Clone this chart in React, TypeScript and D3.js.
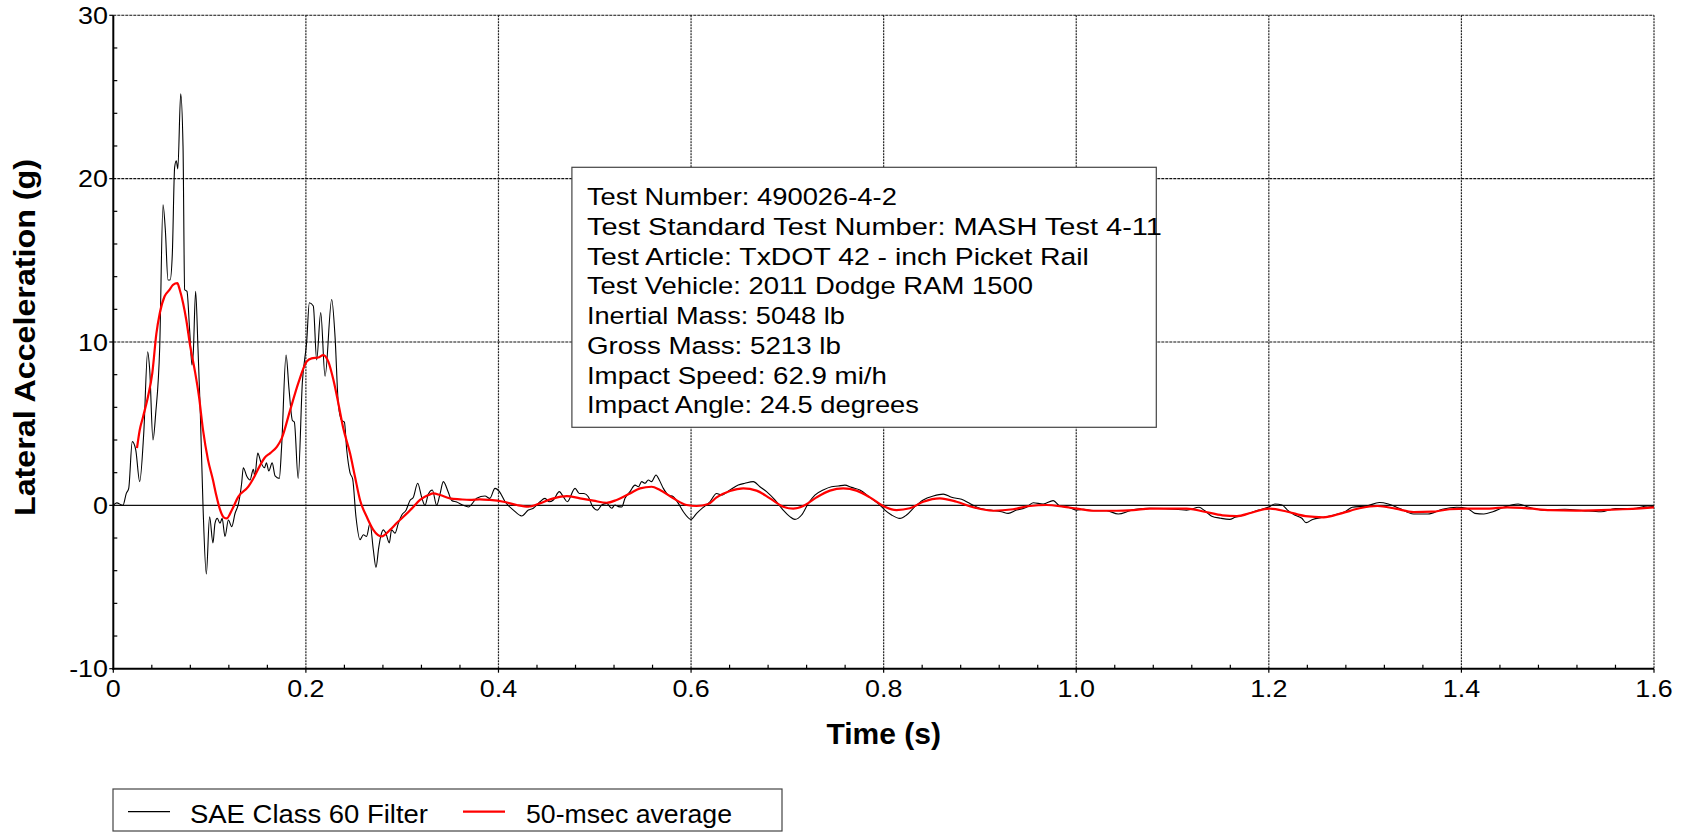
import React from "react";
import * as d3 from "d3";

// ---- data (time s, lateral acceleration g) ----
const sae60Points: [number, number][] = [
  [0, 0], [0.0035, 0.15], [0.01, 0], [0.0135, 0.73], [0.016, 1.04], [0.0197, 3.9], [0.0233, 3.4],
  [0.0274, 1.45], [0.0316, 4.4], [0.0357, 9.4], [0.0378, 8.3], [0.0412, 4.0], [0.044, 5.6],
  [0.0482, 9.7], [0.0516, 18.4], [0.054, 16.9], [0.0568, 13.8], [0.059, 13.8], [0.0613, 15.4],
  [0.0637, 20.7], [0.0654, 21.1], [0.067, 20.6], [0.07, 25.2], [0.0724, 22.0], [0.0741, 13.2],
  [0.0765, 13.1], [0.0793, 10.7], [0.0817, 8.6], [0.083, 9.3], [0.0855, 13.1], [0.0879, 9.7],
  [0.0904, 5.6], [0.0932, -0.1], [0.0966, -4.2], [0.1, -0.7], [0.1035, -2.3], [0.1056, -1.1],
  [0.108, -0.8], [0.1108, -1.1], [0.113, -0.8], [0.116, -1.9], [0.1195, -0.9], [0.123, -1.3],
  [0.1264, -0.5], [0.13, 0.1], [0.1333, 1.35], [0.135, 2.3], [0.1385, 1.8], [0.142, 1.55],
  [0.1454, 2.2], [0.147, 1.8], [0.15, 3.2], [0.1535, 2.6], [0.157, 2.3], [0.159, 2.6],
  [0.1615, 2.1], [0.165, 2.6], [0.168, 1.8], [0.1724, 1.65], [0.1748, 3.6], [0.1794, 9.2],
  [0.1825, 7.1], [0.186, 5.2], [0.188, 5.1], [0.192, 1.65], [0.1963, 7.5], [0.2008, 10.0],
  [0.2036, 12.4], [0.2077, 12.2], [0.2112, 8.9], [0.2154, 11.8], [0.2199, 7.9], [0.2268, 12.6],
  [0.2303, 10.3], [0.2337, 6.2], [0.2372, 5.2], [0.24, 5.1], [0.2424, 3.4], [0.2458, 2.0],
  [0.2486, 1.6], [0.252, -0.7], [0.2562, -2.1], [0.2597, -1.8], [0.263, -1.9], [0.2666, -1.1],
  [0.27, -2.7], [0.2728, -3.8], [0.2756, -2.6], [0.2777, -1.9], [0.2804, -1.5], [0.283, -1.7],
  [0.2866, -2.3], [0.289, -1.5], [0.2925, -1.7], [0.296, -1.1], [0.2995, -0.6], [0.304, -0.3],
  [0.3081, 0.3], [0.3116, 0.5], [0.3161, 1.35], [0.3202, 0.5], [0.3237, 0], [0.3272, 0.7],
  [0.3313, 0.94], [0.3358, 0], [0.3393, 0.7], [0.3427, 1.45], [0.3479, 0.8], [0.3514, 0.3],
  [0.3566, 0.2], [0.3635, 0], [0.3687, -0.1], [0.3774, 0.43], [0.386, 0.57], [0.391, 0.43],
  [0.3964, 1.04], [0.401, 0.84], [0.4069, 0.22], [0.4155, -0.29], [0.4241, -0.65], [0.431, -0.29],
  [0.4362, -0.18], [0.4431, 0.22], [0.4483, 0.43], [0.4528, 0.22], [0.457, 0.33], [0.4632, 0.84],
  [0.4673, 0.53], [0.4715, 0.22], [0.4795, 1.04], [0.484, 0.73], [0.4888, 0.73], [0.4933, 0.53],
  [0.4978, -0.08], [0.5027, -0.29], [0.5072, 0.02], [0.5124, 0.12], [0.5176, -0.18], [0.521, 0.02],
  [0.5245, -0.08], [0.528, -0.1], [0.5314, 0.43], [0.5366, 0.84], [0.5418, 1.24], [0.5453, 1.14],
  [0.5487, 1.45], [0.5522, 1.35], [0.5556, 1.55], [0.559, 1.45], [0.5636, 1.86], [0.567, 1.55],
  [0.5712, 1.04], [0.5764, 0.63], [0.5816, 0.53], [0.5868, 0.12], [0.592, -0.39], [0.5999, -0.86],
  [0.6058, -0.49], [0.6127, -0.12], [0.6196, 0.22], [0.6265, 0.73], [0.6317, 0.63], [0.6404, 0.94],
  [0.649, 1.24], [0.6559, 1.35], [0.6646, 1.45], [0.6715, 1.14], [0.6784, 0.84], [0.6871, 0.33],
  [0.6957, -0.29], [0.7026, -0.69], [0.7078, -0.86], [0.7148, -0.59], [0.7217, 0.12], [0.7286, 0.63],
  [0.7372, 0.94], [0.7459, 1.14], [0.7528, 1.18], [0.7597, 1.24], [0.7666, 1.1], [0.7753, 0.94],
  [0.7857, 0.49], [0.7961, 0.02], [0.8013, -0.29], [0.8082, -0.59], [0.8168, -0.8], [0.8238, -0.59],
  [0.8324, -0.08], [0.8411, 0.33], [0.8515, 0.57], [0.8619, 0.69], [0.8705, 0.49], [0.8809, 0.37],
  [0.8895, 0.12], [0.8999, -0.18], [0.9103, -0.29], [0.9224, -0.39], [0.9293, -0.49], [0.938, -0.29],
  [0.9484, -0.12], [0.9553, 0.16], [0.9657, 0.08], [0.9761, 0.29], [0.983, -0.04], [0.9917, -0.12],
  [1.0003, -0.29], [1.0073, -0.24], [1.0177, -0.33], [1.0315, -0.33], [1.0436, -0.53], [1.0558, -0.33],
  [1.0621, -0.24], [1.0766, -0.18], [1.0921, -0.2], [1.1146, -0.29], [1.1276, -0.12], [1.1332, -0.32],
  [1.1407, -0.66], [1.15, -0.79], [1.1594, -0.86], [1.165, -0.73], [1.1744, -0.59], [1.1894, -0.29],
  [1.2006, -0.08], [1.2063, 0.08], [1.2137, 0.02], [1.2194, -0.29], [1.2268, -0.59], [1.2343, -0.79],
  [1.2387, -1.06], [1.2455, -0.86], [1.2567, -0.73], [1.2679, -0.59], [1.2791, -0.39], [1.2867, -0.12],
  [1.3017, -0.04], [1.3148, 0.17], [1.3241, 0.08], [1.3353, -0.18], [1.3503, -0.53], [1.3652, -0.53],
  [1.3802, -0.24], [1.3952, -0.12], [1.4065, -0.2], [1.414, -0.49], [1.4233, -0.53], [1.4327, -0.39],
  [1.4439, -0.12], [1.4589, 0.08], [1.4701, -0.12], [1.485, -0.29], [1.5075, -0.24], [1.5262, -0.32],
  [1.545, -0.39], [1.5599, -0.2], [1.5786, -0.2], [1.5935, -0.04], [1.6, -0.09],
];

const avg50Points: [number, number][] = [
  [0.0246, 3.5], [0.0274, 4.6], [0.0308, 5.4], [0.036, 6.65], [0.0405, 8.1], [0.0447, 10.5],
  [0.0482, 11.75], [0.0533, 12.8], [0.0585, 13.2], [0.062, 13.5], [0.0665, 13.6], [0.069, 13.2],
  [0.0724, 12.4], [0.0758, 11.35], [0.08, 9.7], [0.0845, 8.3], [0.089, 6.65], [0.0932, 4.6],
  [0.0983, 2.8], [0.1035, 1.55], [0.107, 0.6], [0.1105, -0.2], [0.115, -0.75], [0.1178, -0.8],
  [0.123, -0.3], [0.1299, 0.53], [0.1402, 1.14], [0.145, 1.6], [0.152, 2.4], [0.157, 2.9],
  [0.163, 3.2], [0.17, 3.6], [0.1749, 4.1], [0.1835, 5.8], [0.1922, 7.5], [0.2008, 8.8],
  [0.206, 9.0], [0.2128, 9.05], [0.2181, 9.2], [0.2233, 8.8], [0.2285, 7.7], [0.2337, 6.25],
  [0.2389, 4.7], [0.2458, 3.2], [0.251, 1.75], [0.2562, 0.33], [0.2632, -0.7], [0.27, -1.5],
  [0.2787, -1.9], [0.2874, -1.5], [0.294, -1.1], [0.3012, -0.7], [0.3099, -0.2], [0.3185, 0.33],
  [0.3272, 0.63], [0.3324, 0.73], [0.3393, 0.63], [0.3497, 0.43], [0.3601, 0.37], [0.3704, 0.33],
  [0.3808, 0.37], [0.391, 0.33], [0.4052, 0.22], [0.419, 0.02], [0.431, -0.08], [0.443, 0.12],
  [0.457, 0.43], [0.471, 0.57], [0.4846, 0.43], [0.4985, 0.29], [0.5124, 0.16], [0.5227, 0.33],
  [0.5366, 0.73], [0.547, 1.04], [0.559, 1.14], [0.5677, 0.94], [0.5816, 0.43], [0.5954, 0.02],
  [0.6057, -0.04], [0.618, 0.08], [0.6265, 0.49], [0.6404, 0.88], [0.6542, 1.04], [0.668, 0.9],
  [0.6819, 0.43], [0.6957, -0.08], [0.7061, -0.2], [0.7165, -0.04], [0.7303, 0.49], [0.7442, 0.9],
  [0.758, 1.04], [0.7718, 0.9], [0.7857, 0.49], [0.7995, -0.04], [0.8134, -0.29], [0.8272, -0.18],
  [0.8411, 0.22], [0.8584, 0.43], [0.8757, 0.22], [0.893, -0.12], [0.9138, -0.33], [0.9345, -0.24],
  [0.9518, -0.04], [0.9691, 0.02], [0.9865, -0.08], [1.0003, -0.2], [1.0177, -0.33], [1.0419, -0.33],
  [1.0592, -0.29], [1.0766, -0.2], [1.0921, -0.2], [1.1146, -0.2], [1.1332, -0.39], [1.1519, -0.61],
  [1.1669, -0.66], [1.1819, -0.45], [1.2006, -0.2], [1.2194, -0.39], [1.238, -0.66], [1.2567, -0.73],
  [1.2754, -0.49], [1.2942, -0.18], [1.3129, -0.04], [1.3316, -0.2], [1.3503, -0.41], [1.369, -0.39],
  [1.3877, -0.24], [1.4065, -0.2], [1.4289, -0.2], [1.4476, -0.12], [1.4663, -0.17], [1.4925, -0.29],
  [1.5187, -0.32], [1.545, -0.29], [1.5674, -0.24], [1.5861, -0.18], [1.6, -0.12],
];

const xMajorTicks = [0, 0.2, 0.4, 0.6, 0.8, 1.0, 1.2, 1.4, 1.6];
const xTickLabels = ["0", "0.2", "0.4", "0.6", "0.8", "1.0", "1.2", "1.4", "1.6"];
const yMajorTicks = [-10, 0, 10, 20, 30];
const yTickLabels = ["-10", "0", "10", "20", "30"];

const infoLines = [
  "Test Number: 490026-4-2",
  "Test Standard Test Number:  MASH Test 4-11",
  "Test Article: TxDOT 42 - inch Picket Rail",
  "Test Vehicle: 2011 Dodge RAM 1500",
  "Inertial Mass: 5048 lb",
  "Gross Mass: 5213 lb",
  "Impact Speed: 62.9 mi/h",
  "Impact Angle: 24.5 degrees",
];
const infoWidths = [310, 575, 502, 446, 258, 254, 300, 332];

const legendItems = ["SAE Class 60 Filter", "50-msec average"];
const seriesColors = ["#000000", "#ff0000"];

export default function App() {
  const W = 1686;
  const H = 835;
  const left = 113.3, right = 1654, top = 15.3, bottom = 668.7;
  const x = d3.scaleLinear().domain([0, 1.6]).range([left, right]);
  const y = d3.scaleLinear().domain([-10, 30]).range([bottom, top]);

  const line = d3
    .line<[number, number]>()
    .x((d) => x(d[0]))
    .y((d) => y(d[1]))
    .curve(d3.curveMonotoneX);

  const xMinor = d3.range(0, 1.6001, 0.04).filter((v) => Math.abs(v / 0.2 - Math.round(v / 0.2)) > 1e-6);
  const yMinor = d3.range(-10, 30.001, 2).filter((v) => Math.abs(v % 10) > 1e-6);

  const font = "'Liberation Sans', Arial, sans-serif";
  const stretch = 1.12;

  return (
    <svg
      width={W}
      height={H}
      style={{ position: "absolute", left: 0, top: 0, background: "#fff" }}
      fontFamily={font}
    >
      <rect x={0} y={0} width={W} height={H} fill="#fff" />
      {/* gridlines */}
      {xMajorTicks
        .filter((t) => t > 0)
        .map((t) => (
          <line key={"gx" + t} x1={x(t)} x2={x(t)} y1={top} y2={bottom} stroke="#222" strokeWidth={1.2} strokeDasharray="2,1" />
        ))}
      {yMajorTicks
        .filter((v) => v > -10)
        .map((v) => (
          <line
            key={"gy" + v}
            x1={left}
            x2={right}
            y1={y(v)}
            y2={y(v)}
            stroke="#111"
            strokeWidth={1.1}
            strokeDasharray={v === 0 ? undefined : "3,1"}
          />
        ))}

      {/* series */}
      <defs>
        <clipPath id="plotclip">
          <rect x={left} y={top} width={right - left} height={bottom - top} />
        </clipPath>
      </defs>
      <g clipPath="url(#plotclip)">
        <path d={line(sae60Points) || ""} fill="none" stroke={seriesColors[0]} strokeWidth={1.1} />
        <path d={line(avg50Points) || ""} fill="none" stroke={seriesColors[1]} strokeWidth={2.2} />
      </g>

      {/* info box */}
      <rect x={571.9} y={167.3} width={584.4} height={260} fill="#fff" stroke="#444" strokeWidth={1.2} />
      {infoLines.map((s, i) => (
        <text
          key={"info" + i}
          x={586.9}
          y={205 + i * 29.76}
          fontSize={24.5}
          fill="#000"
          textLength={infoWidths[i]}
          lengthAdjust="spacingAndGlyphs"
        >
          {s}
        </text>
      ))}

      {/* axes */}
      <line x1={left} x2={left} y1={top} y2={bottom + 1} stroke="#000" strokeWidth={2} />
      <line x1={left - 1} x2={right} y1={bottom} y2={bottom} stroke="#000" strokeWidth={2} />
      {xMajorTicks.map((t) => (
        <line key={"xt" + t} x1={x(t)} x2={x(t)} y1={bottom} y2={bottom + 4} stroke="#000" strokeWidth={1.2} />
      ))}
      {xMinor.map((t) => (
        <line key={"xm" + t} x1={x(t)} x2={x(t)} y1={bottom} y2={bottom - 4} stroke="#000" strokeWidth={1.2} />
      ))}
      {yMajorTicks.map((v) => (
        <line key={"yt" + v} x1={left - 4} x2={left} y1={y(v)} y2={y(v)} stroke="#000" strokeWidth={1.2} />
      ))}
      {yMinor.map((v) => (
        <line key={"ym" + v} x1={left} x2={left + 4} y1={y(v)} y2={y(v)} stroke="#000" strokeWidth={1.2} />
      ))}

      {/* tick labels */}
      {xMajorTicks.map((t, i) => (
        <text
          key={"xl" + t}
          transform={`translate(${x(t)},697) scale(${stretch},1)`}
          fontSize={24}
          textAnchor="middle"
          fill="#000"
        >
          {xTickLabels[i]}
        </text>
      ))}
      {yMajorTicks.map((v, i) => (
        <text
          key={"yl" + v}
          transform={`translate(108,${y(v) + 8.5}) scale(${stretch},1)`}
          fontSize={24}
          textAnchor="end"
          fill="#000"
        >
          {yTickLabels[i]}
        </text>
      ))}

      {/* axis titles */}
      <text x={(left + right) / 2} y={744} fontSize={30} fontWeight="bold" textAnchor="middle" fill="#000">
        Time (s)
      </text>
      <text
        transform={`translate(35, ${(159 + 516) / 2}) rotate(-90)`}
        fontSize={30}
        fontWeight="bold"
        textAnchor="middle"
        fill="#000"
        textLength={357}
        lengthAdjust="spacingAndGlyphs"
      >
        Lateral Acceleration (g)
      </text>

      {/* legend */}
      <rect x={113} y={789} width={669} height={42} fill="#fff" stroke="#444" strokeWidth={1.2} />
      <line x1={128} x2={170} y1={811.7} y2={811.7} stroke={seriesColors[0]} strokeWidth={1.2} />
      <text x={190} y={823} fontSize={26} fill="#000" textLength={238} lengthAdjust="spacingAndGlyphs">
        {legendItems[0]}
      </text>
      <line x1={463} x2={505} y1={811.7} y2={811.7} stroke={seriesColors[1]} strokeWidth={2.2} />
      <text x={526} y={823} fontSize={26} fill="#000" textLength={206} lengthAdjust="spacingAndGlyphs">
        {legendItems[1]}
      </text>
    </svg>
  );
}
